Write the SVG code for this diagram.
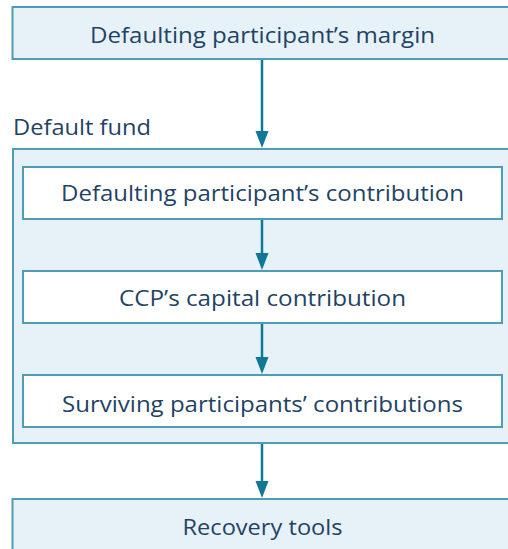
<svg xmlns="http://www.w3.org/2000/svg" width="508" height="549" viewBox="0 0 508 549">
<style>
.outer{fill:#e7f2f8;stroke:#4f9cb6;stroke-width:2}
.inner{fill:#ffffff;stroke:#4f9cb6;stroke-width:2}
.t{font-family:"Open Sans","Noto Sans",sans-serif;font-size:22.5px;fill:#1f4365;text-anchor:middle}
.lbl{font-family:"Open Sans","Noto Sans",sans-serif;font-size:22.5px;fill:#1f4365}
.conn{stroke:#0f7896;stroke-width:2.5;fill:none}
.head{fill:#0f7896}
</style>
<g id="defaulting-margin">
<rect class="outer" x="12.5" y="7" width="520" height="52"/>
<text class="t" x="262.5" y="42.5" textLength="345" lengthAdjust="spacingAndGlyphs">Defaulting participant’s margin</text>
</g>
<g id="default-fund">
<text class="lbl" x="13" y="135" textLength="138" lengthAdjust="spacingAndGlyphs">Default fund</text>
<rect class="outer" x="13" y="149" width="520" height="294"/>
</g>
<g id="dp-contribution">
<rect class="inner" x="23" y="167" width="479" height="52"/>
<text class="t" x="262.5" y="200.5" textLength="403" lengthAdjust="spacingAndGlyphs">Defaulting participant’s contribution</text>
</g>
<g id="ccp-capital">
<rect class="inner" x="23" y="271" width="479" height="52"/>
<text class="t" x="262.5" y="306" textLength="287" lengthAdjust="spacingAndGlyphs">CCP’s capital contribution</text>
</g>
<g id="surviving">
<rect class="inner" x="23" y="375" width="479" height="52"/>
<text class="t" x="262.5" y="411.5" textLength="401" lengthAdjust="spacingAndGlyphs">Surviving participants’ contributions</text>
</g>
<g id="recovery-tools">
<rect class="outer" x="12.5" y="499" width="520" height="60"/>
<text class="t" x="262.5" y="534.5" textLength="160" lengthAdjust="spacingAndGlyphs">Recovery tools</text>
</g>
<g id="connectors">
<line class="conn" x1="262" y1="60" x2="262" y2="140"/>
<path class="head" d="M255.5,131 L268.5,131 L262,148 Z"/>
<line class="conn" x1="262" y1="220" x2="262" y2="262"/>
<path class="head" d="M255.5,253 L268.5,253 L262,270 Z"/>
<line class="conn" x1="262" y1="324" x2="262" y2="366"/>
<path class="head" d="M255.5,357 L268.5,357 L262,374 Z"/>
<line class="conn" x1="262" y1="444" x2="262" y2="490"/>
<path class="head" d="M255.5,481 L268.5,481 L262,498 Z"/>
</g>
</svg>
